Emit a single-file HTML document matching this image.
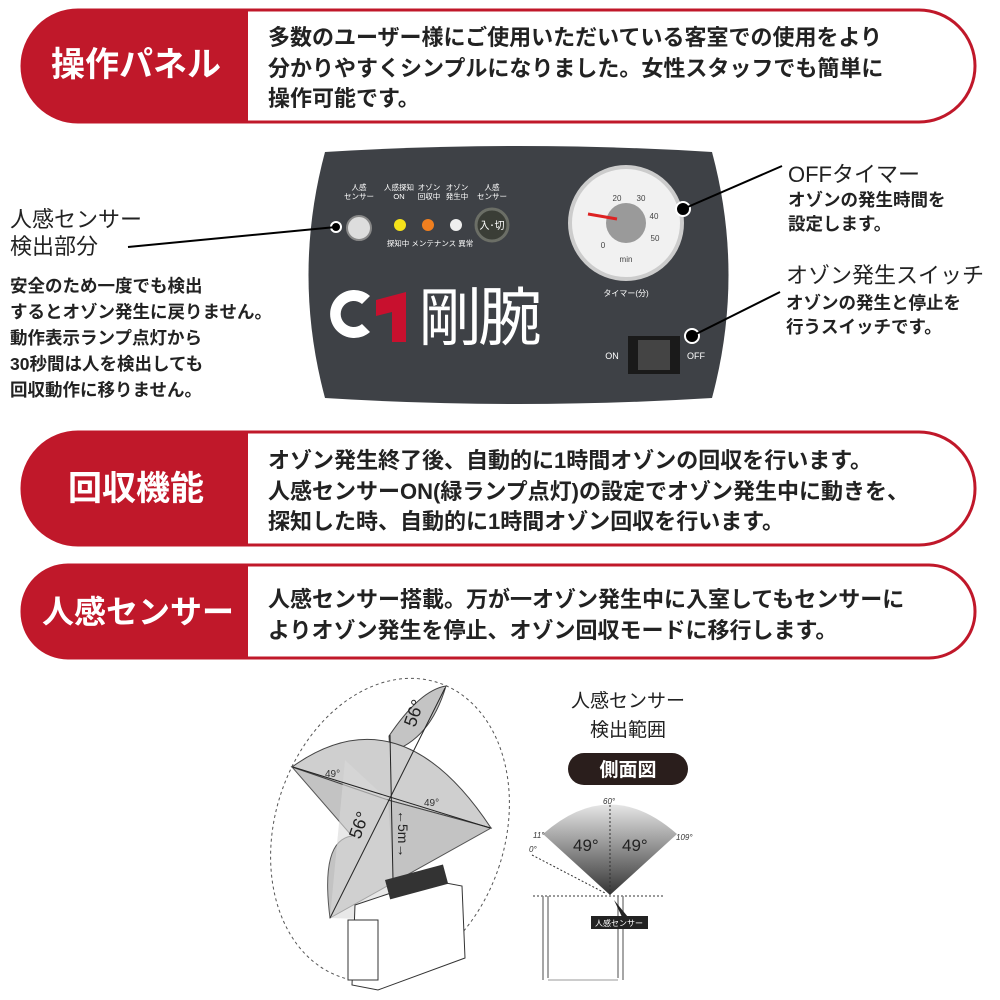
<!DOCTYPE html>
<html><head><meta charset="utf-8"><style>
html,body{margin:0;padding:0;background:#fff}
svg{display:block}
text{font-family:"Liberation Sans","Noto Sans CJK JP",sans-serif}
</style></head><body>
<svg width="1000" height="1000" viewBox="0 0 1000 1000" xmlns="http://www.w3.org/2000/svg">
<defs>
<linearGradient id="fan" x1="0" y1="0" x2="0" y2="1"><stop offset="0" stop-color="#e6e6e6"/><stop offset="1" stop-color="#333"/></linearGradient>
</defs>
<!-- banner 1 -->
<rect x="22" y="10" width="953" height="112" rx="56" fill="#fff" stroke="#c0182a" stroke-width="3"/>
<path d="M78,10 H248 V122 H78 A56,56 0 0 1 78,10 Z" fill="#c0182a"/>
<text x="136" y="76" fill="#fff" font-size="34" font-weight="bold" text-anchor="middle">操作パネル</text>
<g font-size="22" fill="#222" font-weight="bold">
<text x="268" y="45">多数のユーザー様にご使用いただいている客室での使用をより</text>
<text x="268" y="76">分かりやすくシンプルになりました。女性スタッフでも簡単に</text>
<text x="268" y="106">操作可能です。</text>
</g>
<!-- banner 2 -->
<rect x="22" y="432" width="953" height="113" rx="56" fill="#fff" stroke="#c0182a" stroke-width="3"/>
<path d="M78,432 H248 V545 H78 A56,56 0 0 1 78,432 Z" fill="#c0182a"/>
<text x="136" y="500" fill="#fff" font-size="34" font-weight="bold" text-anchor="middle">回収機能</text>
<g font-size="22" fill="#222" font-weight="bold">
<text x="268" y="468">オゾン発生終了後、自動的に1時間オゾンの回収を行います。</text>
<text x="268" y="499">人感センサーON(緑ランプ点灯)の設定でオゾン発生中に動きを、</text>
<text x="268" y="529">探知した時、自動的に1時間オゾン回収を行います。</text>
</g>
<!-- banner 3 -->
<rect x="22" y="565" width="953" height="93" rx="46" fill="#fff" stroke="#c0182a" stroke-width="3"/>
<path d="M68,565 H248 V658 H68 A46,46 0 0 1 68,565 Z" fill="#c0182a"/>
<text x="138" y="623" fill="#fff" font-size="32" font-weight="bold" text-anchor="middle">人感センサー</text>
<g font-size="22" fill="#222" font-weight="bold">
<text x="268" y="607">人感センサー搭載。万が一オゾン発生中に入室してもセンサーに</text>
<text x="268" y="638">よりオゾン発生を停止、オゾン回収モードに移行します。</text>
</g>
<!-- panel -->
<path d="M325,152 Q518,140 712,152 Q745,275 712,398 Q518,410 325,398 Q292,275 325,152 Z" fill="#3e4146"/>
<g font-size="7.5" fill="#fff" text-anchor="middle">
<text x="359" y="190">人感</text><text x="359" y="199">センサー</text>
<text x="399" y="190">人感探知</text><text x="399" y="199">ON</text>
<text x="429" y="190">オゾン</text><text x="429" y="199">回収中</text>
<text x="457" y="190">オゾン</text><text x="457" y="199">発生中</text>
<text x="492" y="190">人感</text><text x="492" y="199">センサー</text>
<text x="430" y="246">探知中 メンテナンス 異常</text>
</g>
<circle cx="359" cy="228" r="12" fill="#ddd" stroke="#888" stroke-width="2"/>
<circle cx="400" cy="225" r="6" fill="#f5e21a"/>
<circle cx="428" cy="225" r="6" fill="#f07f1f"/>
<circle cx="456" cy="225" r="6" fill="#eee"/>
<circle cx="492" cy="225" r="16" fill="#3a3d36" stroke="#6b6e66" stroke-width="3"/>
<text x="492" y="229" font-size="10" fill="#fff" text-anchor="middle">入･切</text>
<circle cx="626" cy="223" r="56" fill="#f1f1f1" stroke="#ccc" stroke-width="4"/>
<circle cx="626" cy="223" r="20" fill="#9a9a9a"/>
<line x1="617" y1="219" x2="588" y2="214" stroke="#d22" stroke-width="3"/>
<g font-size="8" fill="#444" text-anchor="middle"><text x="617" y="201">20</text><text x="641" y="201">30</text><text x="654" y="219">40</text><text x="655" y="241">50</text><text x="603" y="248">0</text><text x="626" y="262">min</text></g>
<text x="626" y="296" font-size="8" fill="#fff" text-anchor="middle">タイマー(分)</text>
<path d="M370,296 a24,24 0 1 0 0,36 l-8,-8 a13,13 0 1 1 0,-20 z" fill="#fff"/>
<path d="M376,300 l30,-8 v50 h-14 v-30 l-16,4 z" fill="#c8102e"/>
<text x="418" y="340" font-size="64" fill="#fff" letter-spacing="-4">剛腕</text>
<rect x="628" y="336" width="52" height="38" fill="#1a1a1a"/>
<rect x="638" y="340" width="32" height="30" fill="#444"/>
<text x="612" y="359" font-size="9" fill="#fff" text-anchor="middle">ON</text>
<text x="696" y="359" font-size="9" fill="#fff" text-anchor="middle">OFF</text>
<!-- callouts -->
<circle cx="336" cy="227" r="5" fill="#000" stroke="#fff" stroke-width="2"/>
<line x1="128" y1="247" x2="336" y2="227" stroke="#000" stroke-width="2"/>
<circle cx="683" cy="209" r="7" fill="#000" stroke="#fff" stroke-width="2"/>
<line x1="683" y1="209" x2="782" y2="166" stroke="#000" stroke-width="2"/>
<circle cx="692" cy="336" r="7" fill="#000" stroke="#fff" stroke-width="2"/>
<line x1="692" y1="336" x2="780" y2="292" stroke="#000" stroke-width="2"/>
<text x="10" y="227" font-size="22" fill="#222">人感センサー</text>
<text x="10" y="254" font-size="22" fill="#222">検出部分</text>
<g font-size="17.5" fill="#222" font-weight="bold">
<text x="10" y="292">安全のため一度でも検出</text>
<text x="10" y="318">するとオゾン発生に戻りません。</text>
<text x="10" y="344">動作表示ランプ点灯から</text>
<text x="10" y="370">30秒間は人を検出しても</text>
<text x="10" y="396">回収動作に移りません。</text>
</g>
<text x="788" y="182" font-size="22" fill="#222">OFFタイマー</text>
<text x="788" y="206" font-size="17.5" fill="#222" font-weight="bold">オゾンの発生時間を</text>
<text x="788" y="230" font-size="17.5" fill="#222" font-weight="bold">設定します。</text>
<text x="786" y="283" font-size="22" fill="#222">オゾン発生スイッチ</text>
<text x="786" y="309" font-size="17.5" fill="#222" font-weight="bold">オゾンの発生と停止を</text>
<text x="786" y="333" font-size="17.5" fill="#222" font-weight="bold">行うスイッチです。</text>
<!-- 3D sensor diagram -->
<ellipse cx="390" cy="830" rx="115" ry="155" transform="rotate(18 390 830)" fill="none" stroke="#555" stroke-dasharray="3,3"/>
<path d="M389,736 Q420,690 446,686 Q430,740 390,752 Z" fill="#c4c4c4" stroke="#444"/>
<path d="M292,767 Q400,690 491,828 L388,800 Z" fill="#cfcfcf" stroke="#444"/>
<path d="M292,767 L388,800 L491,828 L330,918 Q320,840 352,836 Z" fill="#bdbdbd" stroke="#444" opacity="0.9"/>
<path d="M330,918 L345,760 L388,800 L396,920 Z" fill="#d8d8d8" opacity="0.6"/>
<g stroke="#222" stroke-width="1" fill="none">
<line x1="293" y1="767" x2="490" y2="828"/><line x1="445" y1="688" x2="330" y2="918"/><line x1="390" y1="735" x2="393" y2="880"/>
</g>
<g font-size="10" fill="#333"><text x="325" y="777">49°</text><text x="424" y="806">49°</text></g>
<text x="415" y="728" font-size="18" fill="#222" transform="rotate(-70 415 728)">56°</text>
<text x="360" y="840" font-size="18" fill="#222" transform="rotate(-70 360 840)">56°</text>
<text x="398" y="810" font-size="14" fill="#222" transform="rotate(90 398 810)">←5m→</text>
<path d="M355,905 L430,880 L462,886 L465,958 L378,990 L352,985 Z" fill="#fff" stroke="#333"/>
<rect x="385" y="880" width="60" height="20" fill="#333" transform="rotate(-15 385 880)"/>
<rect x="348" y="920" width="30" height="60" fill="#fff" stroke="#333"/>
<!-- side view -->
<text x="628" y="707" font-size="19" fill="#222" text-anchor="middle">人感センサー</text>
<text x="628" y="736" font-size="19" fill="#222" text-anchor="middle">検出範囲</text>
<rect x="568" y="753" width="120" height="32" rx="16" fill="#2a1e1c"/>
<text x="628" y="776" font-size="19" fill="#fff" text-anchor="middle" font-weight="bold">側面図</text>
<path d="M543,834 Q610,775 677,834 L610,895 Z" fill="url(#fan)"/>
<line x1="610" y1="805" x2="610" y2="895" stroke="#333" stroke-dasharray="2,2"/>
<line x1="532" y1="855" x2="605" y2="893" stroke="#333" stroke-dasharray="2,2"/>
<line x1="533" y1="896" x2="665" y2="896" stroke="#333" stroke-dasharray="2,2"/>
<g font-size="17" fill="#222"><text x="573" y="851">49°</text><text x="622" y="851">49°</text></g>
<g font-size="8" fill="#333" font-style="italic"><text x="603" y="804">60°</text><text x="533" y="838">11°</text><text x="529" y="852">0°</text><text x="676" y="840">109°</text></g>
<path d="M543,896 V980 M623,896 V980 M548,896 V978 M618,896 V978" stroke="#888" stroke-width="1.5"/>
<line x1="548" y1="980" x2="618" y2="980" stroke="#999"/>
<path d="M614,900 L622,917 L628,917 Z" fill="#222"/>
<rect x="591" y="916" width="57" height="13" fill="#222"/>
<text x="619" y="926" font-size="8" fill="#fff" text-anchor="middle">人感センサー</text>
</svg>
</body></html>
